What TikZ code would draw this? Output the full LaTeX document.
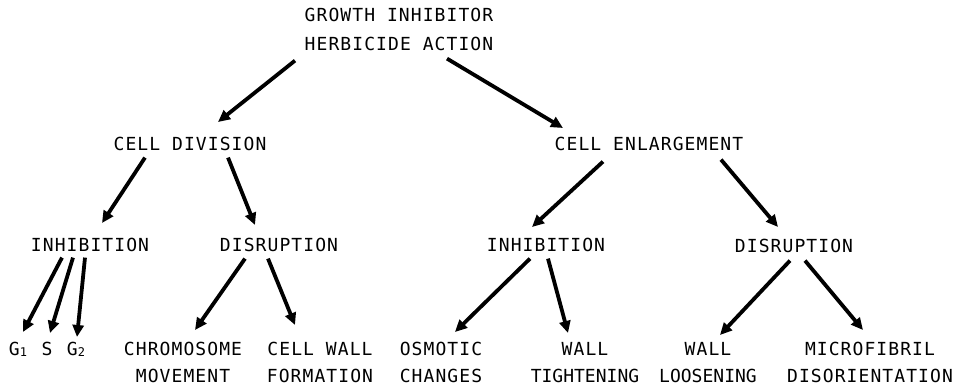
\documentclass[tikz,border=0pt]{standalone}
\usepackage{fontspec}
\setmainfont{DejaVu Sans Mono}[LetterSpace=6]
\usetikzlibrary{arrows.meta}
\tikzset{
  lbl/.style={inner sep=0pt, outer sep=0pt, anchor=north, align=center,
    font=\fontsize{18}{27}\selectfont},
  toplbl/.style={lbl, font=\fontsize{18}{29}\selectfont},
  arr/.style={line width=3.8pt, -{Triangle[length=12pt,width=11pt]}}
}
\newcommand{\subnum}[1]{\raisebox{-1.5pt}{\fontsize{12}{12}\selectfont #1}}
\newcommand{\tight}{\addfontfeature{LetterSpace=0}}
\begin{document}
\begin{tikzpicture}[x=1pt,y=-1pt]
\useasboundingbox (0,0) rectangle (962,389);
% nodes
\node[toplbl] (top) at (399,8) {GROWTH INHIBITOR\\HERBICIDE ACTION};
\node[lbl] (cd) at (190,137) {CELL DIVISION};
\node[lbl] (ce) at (649,137) {CELL ENLARGEMENT};
\node[lbl] (il) at (90,238) {INHIBITION};
\node[lbl] (dl) at (279,238) {DISRUPTION};
\node[lbl] (ir) at (546,238) {INHIBITION};
\node[lbl] (dr) at (794,239) {DISRUPTION};
\node[lbl] (g1) at (18,342) {G\subnum{1}};
\node[lbl] (s) at (47,342) {S};
\node[lbl] (g2) at (76,342) {G\subnum{2}};
\node[lbl] (chrom) at (183,342) {CHROMOSOME\\MOVEMENT};
\node[lbl] (cw) at (320,342) {CELL WALL\\FORMATION};
\node[lbl] (osm) at (441,342) {OSMOTIC\\CHANGES};
\node[lbl] (wt) at (585,342) {WALL\\{\tight TIGHTENING}};
\node[lbl] (wl) at (708,342) {WALL\\{\tight LOOSENING}};
\node[lbl] (mf) at (870,342) {MICROFIBRIL\\DISORIENTATION};
% connectors
\draw[arr] ([shift={(-104,10)}]top.south) -- ([shift={(28,-15)}]cd.north);
\draw[arr] ([shift={(48,8)}]top.south) -- ([shift={(-86,-9)}]ce.north);
\draw[arr] ([shift={(-45,7)}]cd.south) -- ([shift={(12,-15)}]il.north);
\draw[arr] ([shift={(38,7)}]cd.south) -- ([shift={(-24,-13)}]dl.north);
\draw[arr] ([shift={(-46,11)}]ce.south) -- ([shift={(-14,-11)}]ir.north);
\draw[arr] ([shift={(72,9)}]ce.south) -- ([shift={(-16,-12)}]dr.north);
\draw[arr] ([shift={(-28,6)}]il.south) -- ([shift={(5,-10)}]g1.north);
\draw[arr] ([shift={(-17,6)}]il.south) -- ([shift={(3,-9)}]s.north);
\draw[arr] ([shift={(-5,6)}]il.south) -- ([shift={(1,-5)}]g2.north);
\draw[arr] ([shift={(-34,7)}]dl.south) -- ([shift={(12,-12)}]chrom.north);
\draw[arr] ([shift={(-11,7)}]dl.south) -- ([shift={(-25,-17)}]cw.north);
\draw[arr] ([shift={(-16,7)}]ir.south) -- ([shift={(14,-10)}]osm.north);
\draw[arr] ([shift={(2,7)}]ir.south) -- ([shift={(-17,-9)}]wt.north);
\draw[arr] ([shift={(-4,8)}]dr.south) -- ([shift={(12,-7)}]wl.north);
\draw[arr] ([shift={(11,8)}]dr.south) -- ([shift={(-7,-12)}]mf.north);
\end{tikzpicture}
\end{document}
